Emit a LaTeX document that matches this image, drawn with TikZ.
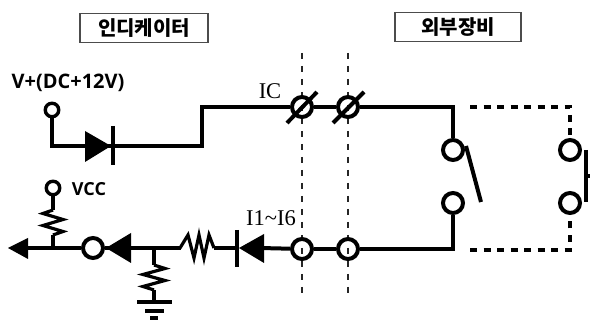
\documentclass[tikz,border=0pt]{standalone}
\usepackage{fontspec}
\setmainfont{Open Sans}
\newfontfamily\krfont{Noto Sans CJK KR}
\newfontfamily\icfont{Liberation Serif}
\tikzset{
  wire/.style={line width=4pt,line cap=butt,line join=miter},
  res/.style={line width=3.2pt,line cap=butt,line join=miter},
  term/.style={circle,draw,line width=4pt,inner sep=0pt,minimum size=20pt},
  port/.style={circle,draw,line width=3.4pt,inner sep=0pt,minimum size=13.5pt},
  guide/.style={line width=2.2pt,dash pattern=on 6.5pt off 6.5pt,black!85},
  ext/.style={line width=4pt,dash pattern=on 7pt off 6.5pt},
  titlebox/.style={draw=black!70,line width=1.2pt,fill=white,minimum height=29pt,inner sep=0pt,font=\krfont\bfseries\fontsize{20}{22}\selectfont},
  lbl/.style={inner sep=0pt,font=\bfseries\fontsize{20}{22}\selectfont},
  lblsm/.style={inner sep=0pt,font=\bfseries\fontsize{18}{20}\selectfont},
  sig/.style={inner sep=0pt,font=\icfont\fontsize{22.5}{24}\selectfont},
  tri/.style={fill=black,draw=none},
  bar/.style={line width=4pt}
}
\begin{document}
\begin{tikzpicture}[x=1pt,y=-1pt]
\useasboundingbox (0,0) rectangle (590,320);
\fill[white] (0,0) rectangle (590,320);
% titles
\node[titlebox,minimum width=128pt] (t1) at (144,28) {인디케이터};
\node[titlebox,minimum width=126pt] (t2) at (458,27) {외부장비};
% dashed guides
\coordinate (g1a) at (302,53); \coordinate (g1b) at (302,293);
\coordinate (g2a) at (348,53); \coordinate (g2b) at (348,293);
\draw[guide] (g1a) -- (g1b);
\draw[guide] (g2a) -- (g2b);
% terminals
\node[term] (a1) at (302,107) {};
\node[term] (a2) at (348,107) {};
\node[term] (b1) at (302,249) {};
\node[term] (b2) at (348,249) {};
\node[term] (s1) at (453,150) {};
\node[term] (s2) at (453,203) {};
\node[term] (r1) at (570,150) {};
\node[term] (r2) at (570,203) {};
\node[term] (o) at (93,248) {};
\node[port] (vp) at (52,110) {};
\node[port] (vc) at (53,188) {};
% labels
\node[lbl,anchor=center] (l1) at (68,83) {V+(DC+12V)};
\node[lblsm,anchor=center] (l2) at (89,189) {VCC};
\node[sig] (l3) at (270,91) {IC};
\node[sig] (l4) at (271,218) {I1\textasciitilde I6};
% upper wire
\coordinate (c1) at (52,146);
\coordinate (d1t) at (111,146);
\coordinate (c2) at (202,146);
\coordinate (c3) at (202,107);
\draw[wire] (vp) -- (c1) -- (d1t) -- (c2) -- (c3) -- (a1);
\draw[wire] (a1) -- (a2);
\fill[tri] (85,131) -- (111,146) -- (85,162) -- cycle;
\draw[bar] (113,126) -- (113,165);
% right loop
\coordinate (c4) at (453,107);
\coordinate (c5) at (453,249);
\draw[wire] (a2) -- (c4) -- (s1);
\draw[wire] (s2) -- (c5) -- (b2);
\draw[wire] (b1) -- (b2);
% switch
\coordinate (sw1) at (466,146); \coordinate (sw2) at (481,202);
\draw[wire] (sw1) -- (sw2);
% external dashed
\coordinate (e1) at (470,107); \coordinate (e2) at (570,107);
\coordinate (e3) at (470,250); \coordinate (e4) at (570,250);
\draw[ext] (e1) -- (e2) -- (r1);
\draw[ext] (e3) -- (e4) -- (r2);
\coordinate (pb1) at (586,150); \coordinate (pb2) at (586,202);
\coordinate (pb3) at (586,176); \coordinate (pb4) at (590,176);
\draw[wire] (pb1) -- (pb2);
\draw[wire] (pb3) -- (pb4);
% lower wire
\coordinate (tip) at (20,248);
\coordinate (j1) at (53,248);
\coordinate (j2) at (154,248);
\fill[tri] (8,248) -- (28,238) -- (28,259) -- cycle;
\draw[wire] (tip) -- (o);
\fill[tri] (106,248) -- (131,233) -- (131,263) -- cycle;
\draw[wire] (o) -- (125,248) -- (j2) -- (181,248);
\draw[res] (180,248) -- (188,235) -- (194,258) -- (199,235) -- (204,258) -- (209,235) -- (214,248);
\draw[wire] (214,248) -- (237,248);
\draw[bar] (237,230) -- (237,267);
\fill[tri] (239,248) -- (264,234) -- (264,263) -- cycle;
\draw[wire] (260,248) -- (b1);
% vcc branch
\draw[wire] (j1) -- (53,235);
\draw[res] (53,235) -- ++(10,-3.5) -- ++(-20,-6) -- ++(20,-6) -- ++(-20,-6) -- ++(10,-3.5);
\draw[wire] (53,210) -- (vc);
% ground branch
\coordinate (g0) at (154,302);
\draw[wire] (j2) -- (154,265);
\draw[res] (154,265) -- ++(11,3.5) -- ++(-22,6) -- ++(22,6) -- ++(-22,6) -- ++(11,3.5);
\draw[wire] (154,290) -- (g0);
\draw[bar] (137,302) -- (172,302);
\draw[bar] (145,311) -- (164,311);
\draw[bar] (150,318) -- (158,318);
% slashes
\coordinate (x1a) at (287,123); \coordinate (x1b) at (317,92);
\coordinate (x2a) at (333,123); \coordinate (x2b) at (364,92);
\draw[wire] (x1a) -- (x1b);
\draw[wire] (x2a) -- (x2b);
\end{tikzpicture}
\end{document}
